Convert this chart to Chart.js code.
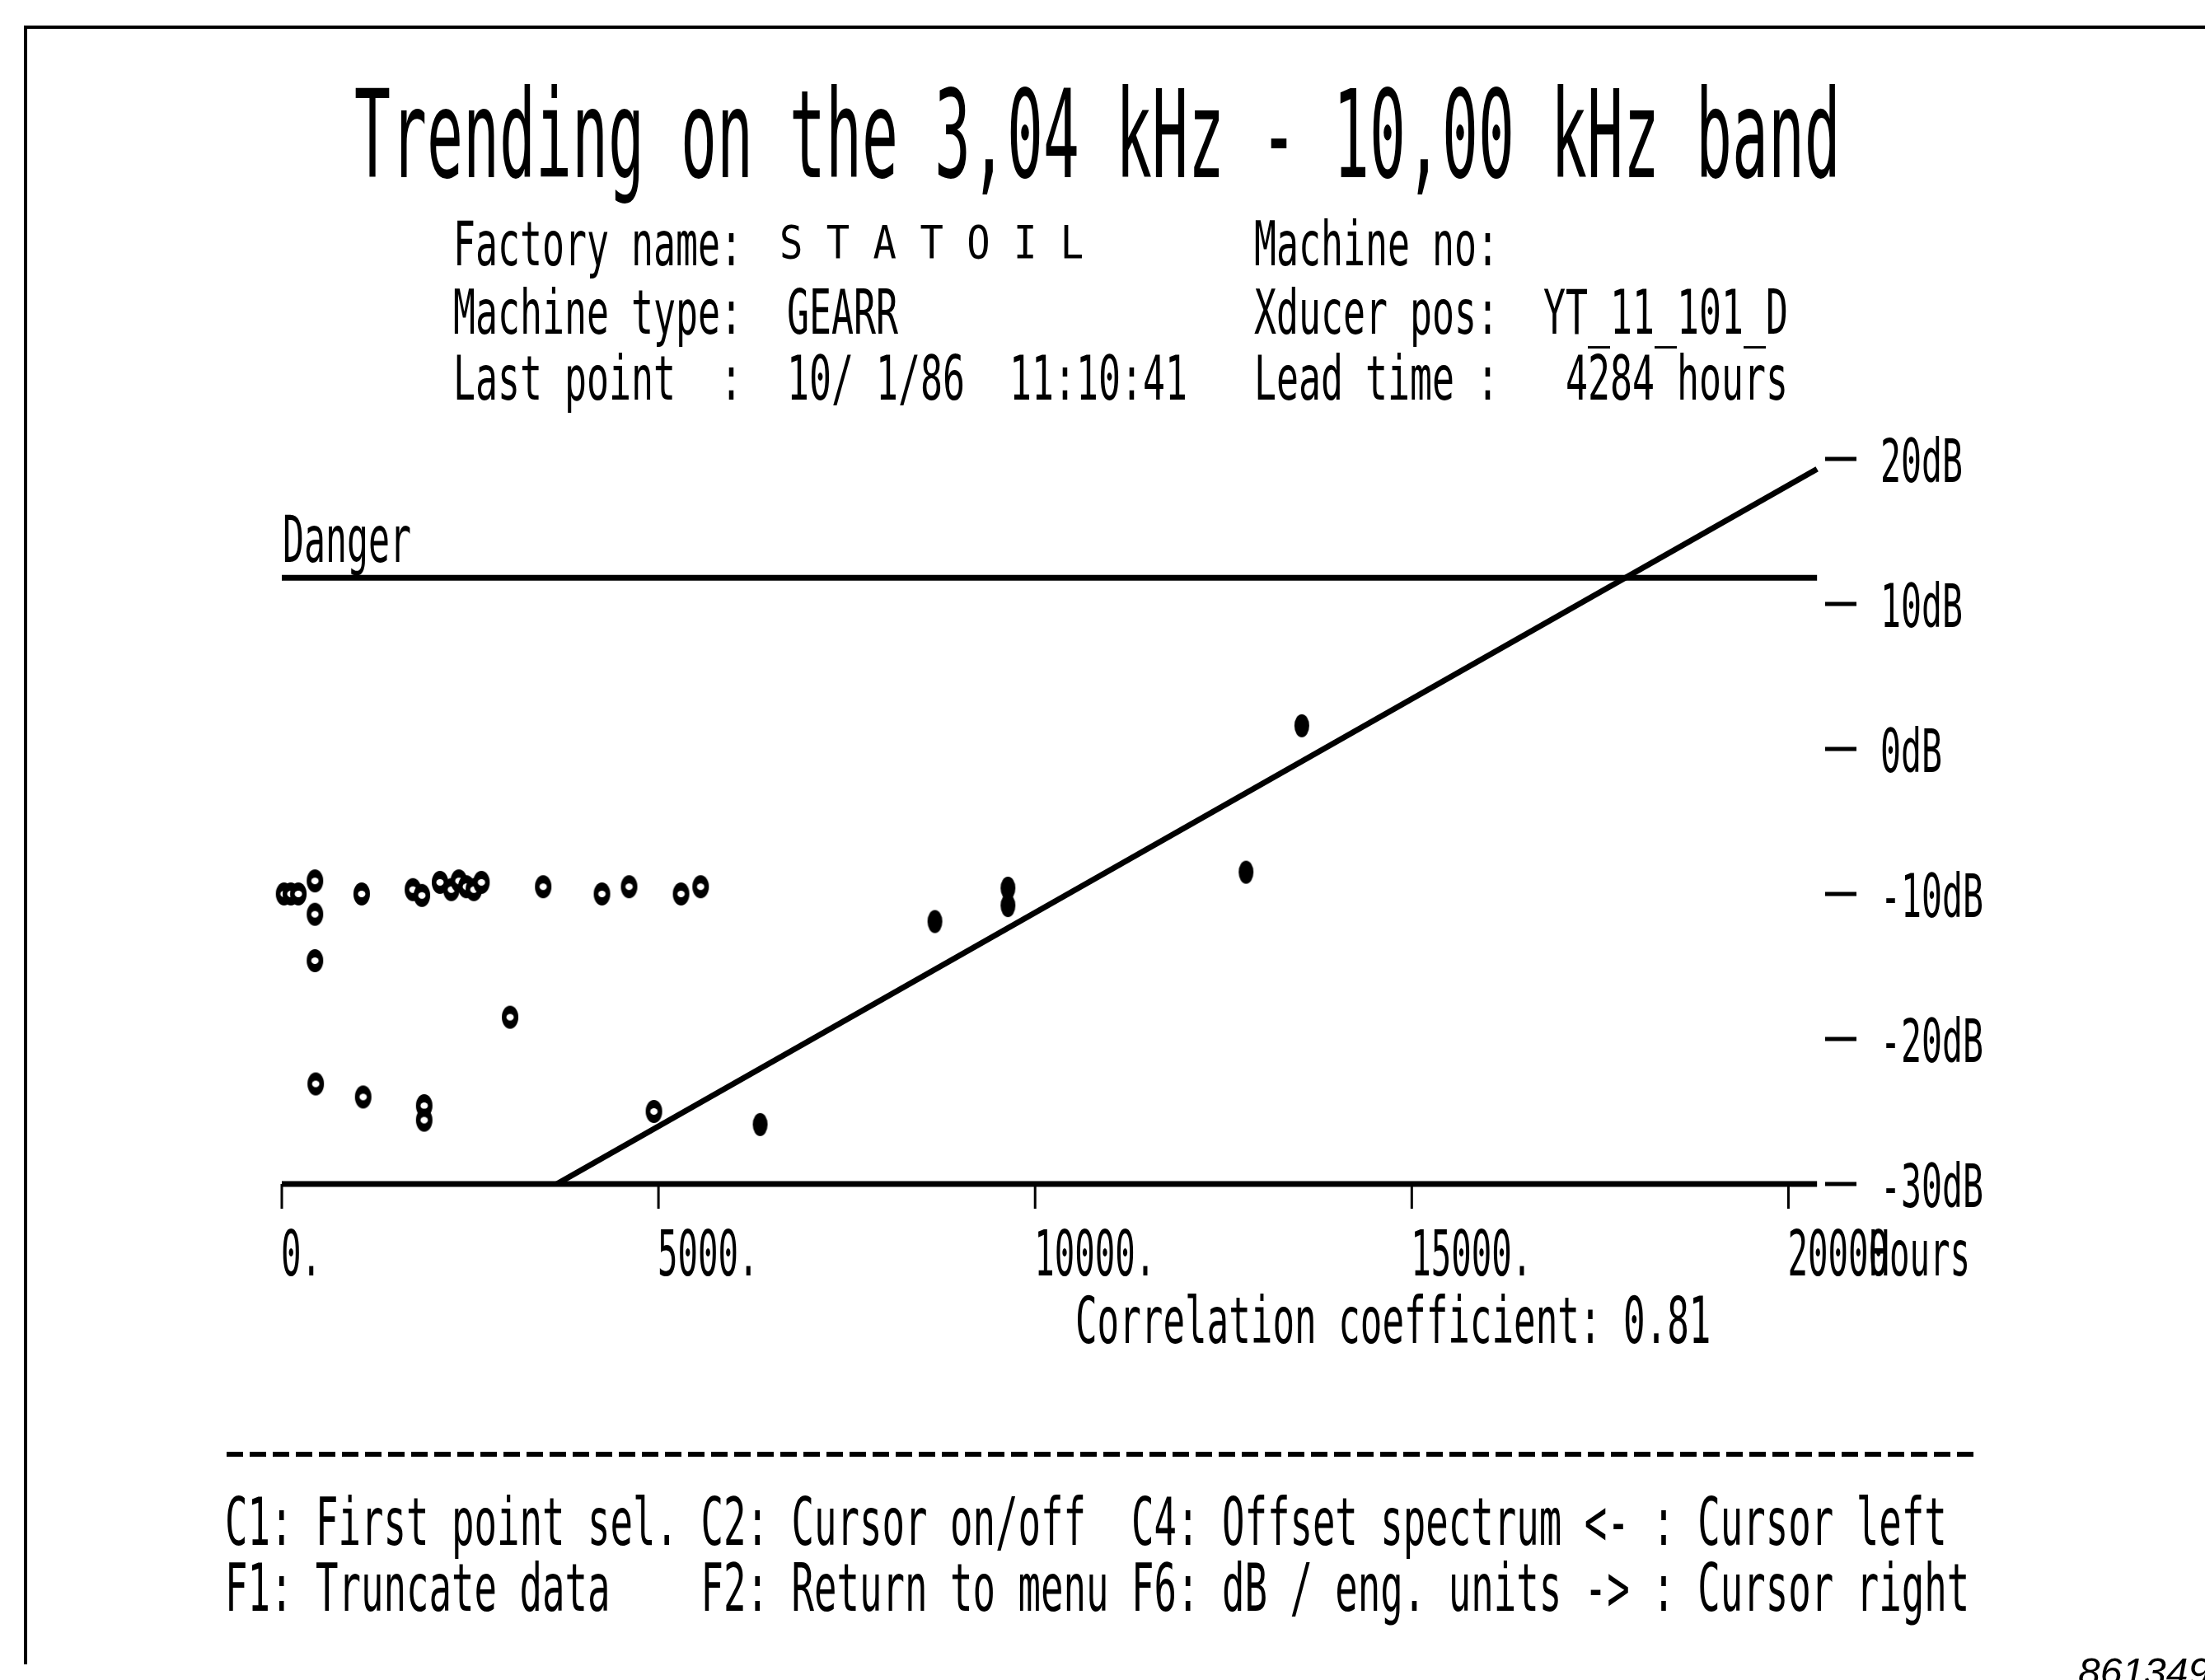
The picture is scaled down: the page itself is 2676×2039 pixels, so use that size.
<!DOCTYPE html>
<html><head><meta charset="utf-8">
<script src="https://cdn.jsdelivr.net/npm/chart.js@4.4.1/dist/chart.umd.min.js"></script>
<style>html,body{margin:0;padding:0;background:#fff;overflow:hidden}canvas{display:block}</style>
</head><body>
<canvas id="c" width="2676" height="2039"></canvas>
<script>
// ---------------- data ----------------
const titleText = 'Trending on the 3,04 kHz - 10,00 kHz band';
const headerLines = [
  'Factory name:                       Machine no:',
  'Machine type:  GEARR                Xducer pos:  YT_11_101_D',
  'Last point  :  10/ 1/86  11:10:41   Lead time :   4284 hours'
];
const factoryName = 'S T A T O I L';
const hollowHours = [30, 120, 220, 440, 440, 440, 1060, 1740, 1860, 2100, 2250, 2350, 2450, 2550, 2650, 3470, 4250, 4610, 5300, 5560, 3030, 450, 1080, 1890, 1890, 4940];
const hollowDb    = [-10.0, -10.0, -10.0, -9.1, -11.4, -14.6, -10.0, -9.7, -10.1, -9.2, -9.7, -9.1, -9.5, -9.7, -9.2, -9.5, -10.0, -9.5, -10.0, -9.5, -18.5, -23.1, -24.0, -24.6, -25.6, -25.0];
const solidHours  = [6350, 8670, 9640, 9640, 12800, 13540];
const solidDb     = [-25.9, -11.9, -9.6, -10.8, -8.5, 1.6];
const trendHours  = [3650, 20380];
const trendDb     = [-30, 19.3];
const dangerHours = [0, 20380];
const dangerDb    = [11.8, 11.8];
const xTickValues = [0, 5000, 10000, 15000, 20000];
const xTickLabels = ['0.', '5000.', '10000.', '15000.', '20000'];
const xUnit = 'Hours';
const yTickValues = [20, 10, 0, -10, -20, -30];
const yTickLabels = ['20dB', '10dB', '0dB', '-10dB', '-20dB', '-30dB'];
const dangerLabel = 'Danger';
const correlationText = 'Correlation coefficient: 0.81';
const menuLines = [
  'C1: First point sel. C2: Cursor on/off  C4: Offset spectrum <- : Cursor left',
  'F1: Truncate data    F2: Return to menu F6: dB / eng. units -> : Cursor right'
];
const figureNumber = '861349';

// ---------------- helpers ----------------
function monoText(ctx, str, x, baseline, cap, pitch) {
  const size = cap / 0.729;
  const adv = 0.602 * size;
  const sx = pitch / adv;
  ctx.save();
  ctx.font = size.toFixed(2) + 'px "DejaVu Sans Mono"';
  ctx.textBaseline = 'alphabetic';
  ctx.textAlign = 'left';
  ctx.fillStyle = '#000';
  ctx.translate(x, baseline);
  ctx.scale(sx, 1);
  ctx.fillText(str, 0, 0);
  ctx.restore();
}
function marker(filled) {
  const c = document.createElement('canvas');
  c.width = 22; c.height = 30;
  const g = c.getContext('2d');
  g.fillStyle = '#000';
  g.beginPath(); g.ellipse(11, 15, filled ? 9 : 10, 14, 0, 0, Math.PI * 2); g.fill();
  if (!filled) {
    g.fillStyle = '#fff';
    g.beginPath(); g.ellipse(11, 15, 4.5, 4, 0, 0, Math.PI * 2); g.fill();
  }
  return c;
}
const toPts = (xs, ys) => xs.map((v, i) => ({ x: v, y: ys[i] }));

const decor = {
  id: 'decor',
  afterDraw(chart) {
    const ctx = chart.ctx;
    const xs = chart.scales.x, ys = chart.scales.y;
    const area = chart.chartArea;
    ctx.save();
    ctx.strokeStyle = '#000';
    ctx.fillStyle = '#000';
    // page frame
    ctx.lineWidth = 4;
    ctx.beginPath();
    ctx.moveTo(31, 2020); ctx.lineTo(31, 33); ctx.lineTo(2676, 33);
    ctx.stroke();
    // title + header
    monoText(ctx, titleText, 430, 215, 108, 44);
    headerLines.forEach((s, i) => monoText(ctx, s, 550, [322, 405, 485][i], 55, 27));
    monoText(ctx, factoryName, 946, 313, 40, 28.4);
    // x axis baseline
    const yBase = ys.getPixelForValue(-30);
    ctx.lineWidth = 7;
    ctx.beginPath(); ctx.moveTo(area.left, yBase); ctx.lineTo(xs.getPixelForValue(20380), yBase); ctx.stroke();
    // x ticks + labels
    ctx.lineWidth = 3;
    xTickValues.forEach((v, i) => {
      const px = xs.getPixelForValue(v);
      ctx.beginPath(); ctx.moveTo(px, yBase); ctx.lineTo(px, yBase + 30); ctx.stroke();
      monoText(ctx, xTickLabels[i], px - 1, 1548, 56, 24.5);
    });
    monoText(ctx, xUnit, xs.getPixelForValue(20000) + 4 * 24.5, 1548, 56, 24.5);
    // y ticks + labels (right side)
    ctx.lineWidth = 5;
    yTickValues.forEach((v, i) => {
      const py = ys.getPixelForValue(v);
      ctx.beginPath(); ctx.moveTo(area.right + 8, py); ctx.lineTo(area.right + 46, py); ctx.stroke();
      monoText(ctx, yTickLabels[i], area.right + 75, py + 28, 53, 25);
    });
    // danger label
    monoText(ctx, dangerLabel, 343, 682, 57, 26);
    // correlation
    monoText(ctx, correlationText, 1305, 1630, 57, 26.6);
    // dashed separator
    ctx.lineWidth = 6;
    ctx.setLineDash([20, 8]);
    ctx.beginPath(); ctx.moveTo(275, 1765); ctx.lineTo(2402, 1765); ctx.stroke();
    ctx.setLineDash([]);
    // menu
    menuLines.forEach((s, i) => monoText(ctx, s, 273, [1875, 1955][i], 58, 27.5));
    // figure number
    ctx.font = 'italic 48px "Liberation Sans"';
    ctx.textAlign = 'left';
    ctx.textBaseline = 'alphabetic';
    ctx.fillText(figureNumber, 2522, 2046);
    ctx.restore();
  }
};

new Chart(document.getElementById('c'), {
  type: 'scatter',
  data: {
    datasets: [
      { label: 'Earlier readings', data: toPts(hollowHours, hollowDb), pointStyle: marker(false), pointRadius: 11, showLine: false, clip: false },
      { label: 'Recent readings', data: toPts(solidHours, solidDb), pointStyle: marker(true), pointRadius: 11, showLine: false, clip: false },
      { label: 'Trend', data: toPts(trendHours, trendDb), showLine: true, borderColor: '#000', borderWidth: 7, pointRadius: 0, clip: false },
      { label: 'Danger', data: toPts(dangerHours, dangerDb), showLine: true, borderColor: '#000', borderWidth: 7, pointRadius: 0, clip: false }
    ]
  },
  options: {
    responsive: false,
    animation: false,
    devicePixelRatio: 1,
    layout: { padding: { left: 342, right: 469, top: 557, bottom: 602 } },
    scales: {
      x: { type: 'linear', min: 0, max: 20400, display: false },
      y: { type: 'linear', min: -30, max: 20, display: false }
    },
    plugins: { legend: { display: false }, tooltip: { enabled: false } }
  },
  plugins: [decor]
});
</script>
</body></html>
